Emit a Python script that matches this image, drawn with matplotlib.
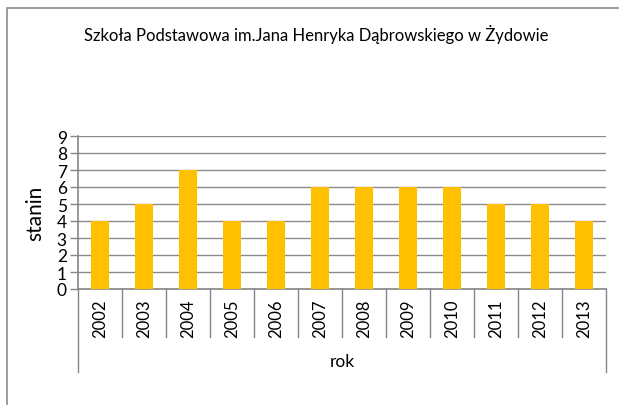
import matplotlib.pyplot as plt
from matplotlib.patches import Rectangle

years = ['2002', '2003', '2004', '2005', '2006', '2007',
         '2008', '2009', '2010', '2011', '2012', '2013']
stanin = [4, 5, 7, 4, 4, 6, 6, 6, 6, 5, 5, 4]

title = 'Szkoła Podstawowa im.Jana Henryka Dąbrowskiego w Żydowie'

plt.rcParams['font.family'] = ['Lato', 'DejaVu Sans']

fig = plt.figure(figsize=(6.19, 4.06), dpi=100)
ax = fig.add_axes([78 / 619, 1 - 290 / 406, 528 / 619, 153 / 406])

# chart border (only top and left visible in the crop)
fig.patches.append(Rectangle((7 / 619, -0.1), 1.2, 1 - 9 / 406 + 0.1,
                             transform=fig.transFigure, fill=False,
                             edgecolor='#8c8c8c', linewidth=1.2))

x = list(range(len(years)))
ax.bar(x, stanin, width=0.4, color='#FFC000', zorder=3)

ax.set_xlim(-0.5, len(years) - 0.5)
ax.set_ylim(0, 9)
ax.set_yticks(range(10))
ax.tick_params(axis='y', length=6, color='#868686', width=1, labelsize=12.5, pad=2)
ax.yaxis.grid(True, color='#8c8c8c', linewidth=1, zorder=0)
ax.set_axisbelow(True)

for s in ['top', 'right']:
    ax.spines[s].set_visible(False)
ax.spines['left'].set_color('#868686')
ax.spines['bottom'].set_color('#868686')
ax.spines['left'].set_linewidth(1.2)
ax.spines['bottom'].set_linewidth(1.2)

# category labels with separators below the axis
ax.set_xticks([])
tr = ax.get_xaxis_transform()
for i, yr in enumerate(years):
    ax.text(i, -0.19, yr, rotation=90, ha='center', va='center',
            fontsize=12, transform=tr)
for b in range(1, len(years)):
    ax.plot([b - 0.5, b - 0.5], [0, -0.314], color='#868686', lw=1,
            transform=tr, clip_on=False)
for b in [-0.5, len(years) - 0.5]:
    ax.plot([b, b], [0, -0.545], color='#868686', lw=1,
            transform=tr, clip_on=False)
ax.text((len(years) - 1) / 2, -0.47, 'rok', ha='center', va='center',
        fontsize=12.5, transform=tr)

ax.set_ylabel('stanin', fontsize=15, labelpad=8)
fig.text(316 / 619, 1 - 35 / 406, title, ha='center', va='center', fontsize=12)

fig.savefig('out.png', dpi=100)
